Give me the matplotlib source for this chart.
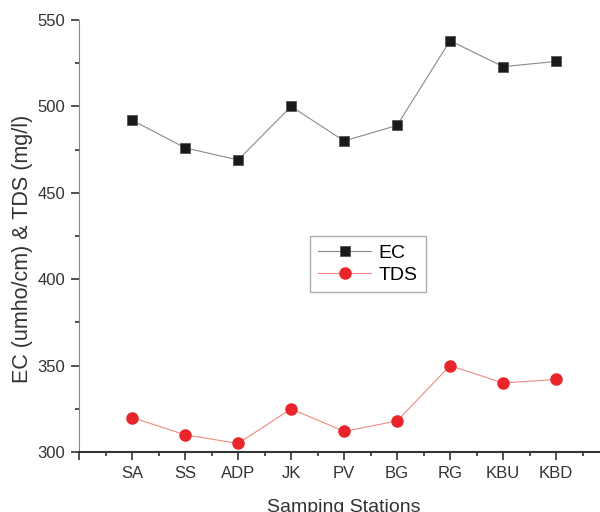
import numpy as np
import matplotlib.pyplot as plt

plt.rcParams['font.family'] = ['Liberation Sans', 'DejaVu Sans']

stations = ['SA', 'SS', 'ADP', 'JK', 'PV', 'BG', 'RG', 'KBU', 'KBD']
ec = [492, 476, 469, 500, 480, 489, 538, 523, 526]
tds = [320, 310, 305, 325, 312, 318, 350, 340, 342]

x = np.arange(1, len(stations) + 1)

fig = plt.figure(figsize=(6, 5.12), dpi=100)
# axis runs a little past the right edge, like the original export
ax = fig.add_axes([0.132, 0.117, 0.883, 0.844])

ax.plot(x, ec, color='#8a8a8a', lw=0.8, marker='s', ms=7,
        mfc='#1a1a1a', mec='#555555', mew=0.6, label='EC')
ax.plot(x, tds, color='#f08a80', lw=0.8, marker='o', ms=8,
        mfc='#e8252b', mec='#e8252b', label='TDS')

ax.set_xlim(0, 10)
ax.set_ylim(300, 550)
ax.set_xticks(np.arange(0, 11))
ax.set_xticklabels([''] + stations + [''])
ax.set_xticks(np.arange(0.5, 10, 1), minor=True)
ax.set_yticks(np.arange(300, 551, 50))
ax.set_yticks(np.arange(325, 550, 50), minor=True)

for s in ['top', 'right']:
    ax.spines[s].set_visible(False)
ax.spines['left'].set_color('#888888')
ax.spines['bottom'].set_color('#333333')
ax.spines['bottom'].set_linewidth(1.5)
ax.tick_params(axis='both', which='major', length=6, width=1.2,
               colors='#333333', labelsize=12, pad=4)
ax.tick_params(axis='both', which='minor', length=3, width=1.2,
               colors='#333333')

ax.set_xlabel('Samping Stations', fontsize=14, color='#333333', labelpad=13)
ax.set_ylabel('EC (umho/cm) & TDS (mg/l)', fontsize=15.5, color='#333333')
ax.yaxis.set_label_coords(-0.088, 0.47)

leg = ax.legend(loc='center', bbox_to_anchor=(0.545, 0.435), fontsize=14,
                frameon=True, fancybox=False, handlelength=2.7,
                borderpad=0.45, labelspacing=0.2, handletextpad=0.4)
leg.get_frame().set_edgecolor('#999999')
leg.get_frame().set_linewidth(1.0)

fig.savefig('out.png', dpi=100)
